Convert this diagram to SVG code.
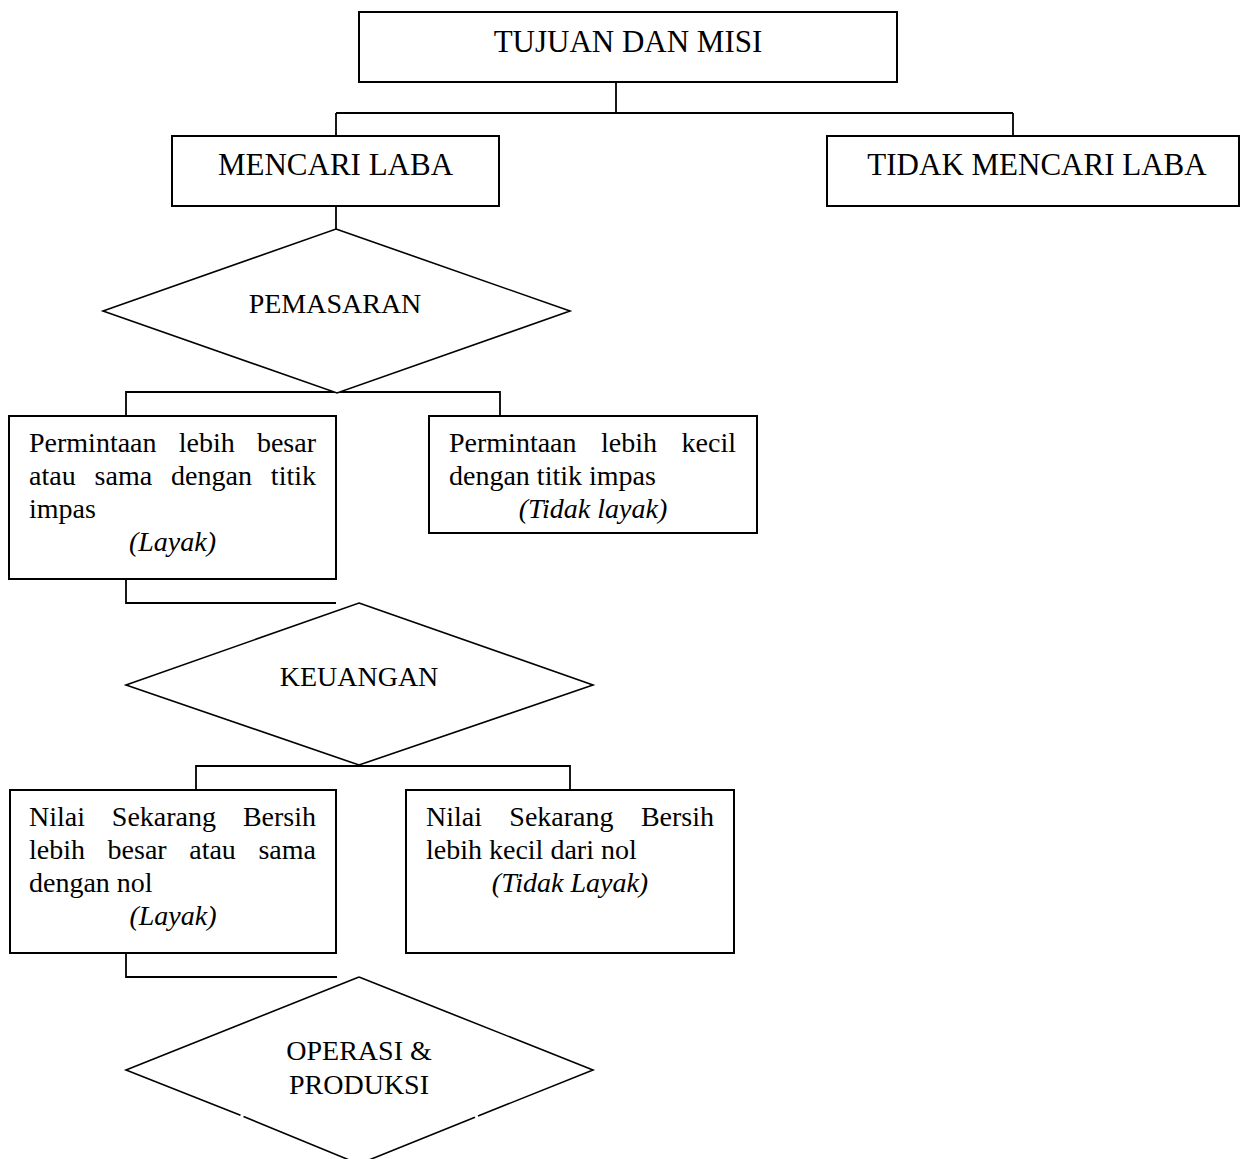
<svg xmlns="http://www.w3.org/2000/svg" width="1240" height="1159" viewBox="0 0 1240 1159">
  <style>
    .box { fill: #fff; stroke: #000; stroke-width: 2; }
    .dia { fill: #fff; stroke: #000; stroke-width: 1.6; stroke-linejoin: miter; }
    .wire { fill: none; stroke: #000; stroke-width: 1.8; }
    text { font-family: "Liberation Serif", "Times New Roman", serif; fill: #000; }
    .head { font-size: 31px; text-anchor: middle; }
    .lbl { font-size: 28px; }
    .mid { text-anchor: middle; }
    .it { font-style: italic; }
  </style>
  <rect width="1240" height="1159" fill="#fff"/>

  <!-- connectors -->
  <g id="connectors">
    <path class="wire" d="M616,82 V113 M336,113 H1013 M336,113 V136 M1013,113 V136"/>
    <path class="wire" d="M336,206 V236"/>
    <path class="wire" d="M126,423 V392 H500 V423"/>
    <path class="wire" d="M126,579 V603 H336"/>
    <path class="wire" d="M196,790 V766 H570 V790"/>
    <path class="wire" d="M126,953 V977 H337"/>
  </g>

  <g id="tujuan">
    <rect class="box" x="359" y="12" width="538" height="70"/>
    <text class="head" x="628" y="52">TUJUAN DAN MISI</text>
  </g>

  <g id="mencari-laba">
    <rect class="box" x="172" y="136" width="327" height="70"/>
    <text class="head" x="335.5" y="175">MENCARI LABA</text>
  </g>

  <g id="tidak-mencari-laba">
    <rect class="box" x="827" y="136" width="412" height="70"/>
    <text class="head" x="1037" y="175">TIDAK MENCARI LABA</text>
  </g>

  <g id="pemasaran">
    <polygon class="dia" points="336,229 570,311 337,393 103,311"/>
    <text class="lbl mid" x="335" y="313">PEMASARAN</text>
  </g>

  <g id="pemasaran-layak">
    <rect class="box" x="9" y="416" width="327" height="163"/>
    <text class="lbl" y="452"><tspan x="29">Permintaan</tspan><tspan x="178.73">lebih</tspan><tspan x="256.92">besar</tspan></text>
    <text class="lbl" y="485"><tspan x="29">atau</tspan><tspan x="94.59">sama</tspan><tspan x="171.07">dengan</tspan><tspan x="270.86">titik</tspan></text>
    <text class="lbl" x="29" y="518">impas</text>
    <text class="lbl mid it" x="172.5" y="551">(Layak)</text>
  </g>

  <g id="pemasaran-tidak-layak">
    <rect class="box" x="429" y="416" width="328" height="117"/>
    <text class="lbl" y="452"><tspan x="449">Permintaan</tspan><tspan x="601.06">lebih</tspan><tspan x="681.57">kecil</tspan></text>
    <text class="lbl" x="449" y="485">dengan titik impas</text>
    <text class="lbl mid it" x="593" y="518">(Tidak layak)</text>
  </g>

  <g id="keuangan">
    <polygon class="dia" points="359,603 593,685 359,765 126,685"/>
    <text class="lbl mid" x="359" y="686">KEUANGAN</text>
  </g>

  <g id="keuangan-layak">
    <rect class="box" x="10" y="790" width="326" height="163"/>
    <text class="lbl" y="826"><tspan x="29">Nilai</tspan><tspan x="111.85">Sekarang</tspan><tspan x="242.89">Bersih</tspan></text>
    <text class="lbl" y="859"><tspan x="29">lebih</tspan><tspan x="107.58">besar</tspan><tspan x="189.24">atau</tspan><tspan x="258.46">sama</tspan></text>
    <text class="lbl" x="29" y="892">dengan nol</text>
    <text class="lbl mid it" x="173" y="925">(Layak)</text>
  </g>

  <g id="keuangan-tidak-layak">
    <rect class="box" x="406" y="790" width="328" height="163"/>
    <text class="lbl" y="826"><tspan x="426">Nilai</tspan><tspan x="509.35">Sekarang</tspan><tspan x="640.89">Bersih</tspan></text>
    <text class="lbl" x="426" y="859">lebih kecil dari nol</text>
    <text class="lbl mid it" x="570" y="892">(Tidak Layak)</text>
  </g>

  <g id="operasi-produksi">
    <!-- lower edges carry two small breaks -->
    <path class="dia" d="M359,977 L593,1070 L478,1116 M475,1117.2 L359,1164 L243.5,1116.5 M240.5,1115.3 L126,1070 L359,977"/>
    <text class="lbl mid" x="359" y="1060">OPERASI &amp;</text>
    <text class="lbl mid" x="359" y="1094">PRODUKSI</text>
  </g>
</svg>
